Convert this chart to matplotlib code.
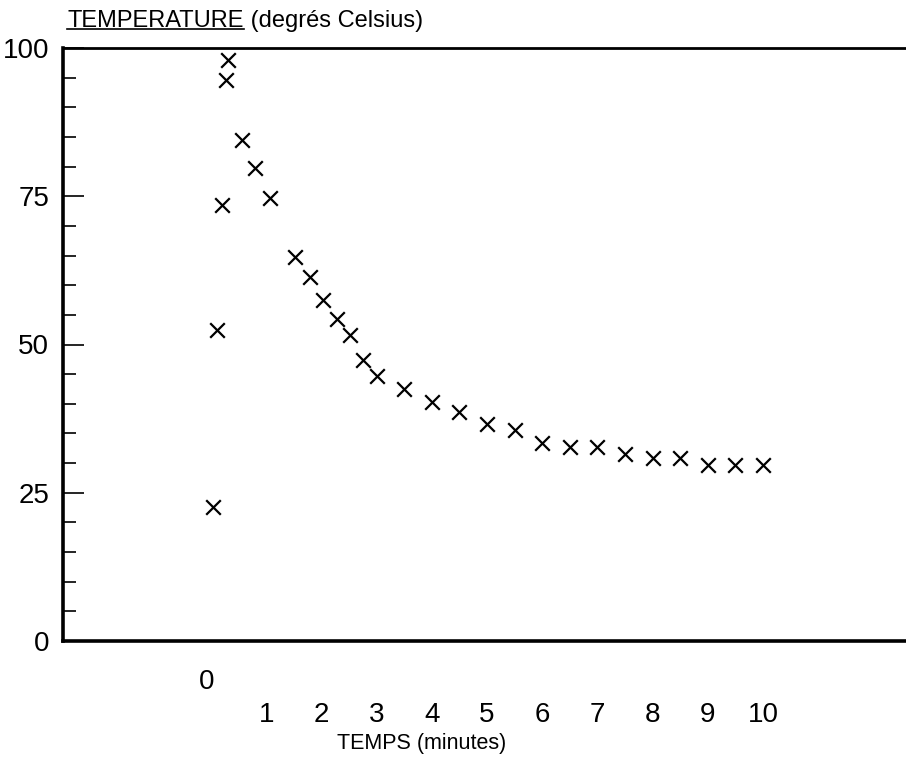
import matplotlib
matplotlib.use("Agg")
import matplotlib.pyplot as plt
from matplotlib.lines import Line2D

# Data
time_min = [0.04, 0.11, 0.20, 0.27, 0.31, 0.56, 0.80, 1.07, 1.52, 1.79, 2.03, 2.28,
            2.52, 2.75, 3.0, 3.5, 4.0, 4.5, 5.0, 5.5, 6.0, 6.5, 7.0, 7.5, 8.0, 8.5,
            9.0, 9.5, 10.0]
temperature = [22.6, 52.4, 73.5, 94.6, 98.0, 84.5, 79.8, 74.7, 64.8, 61.4, 57.5, 54.3,
               51.6, 47.4, 44.7, 42.5, 40.3, 38.6, 36.6, 35.6, 33.4, 32.7, 32.7, 31.5,
               30.9, 30.9, 29.7, 29.7, 29.7]
x_tick_values = [1, 2, 3, 4, 5, 6, 7, 8, 9, 10]
x_tick_labels = ["1", "2", "3", "4", "5", "6", "7", "8", "9", "10"]
y_major = [0, 25, 50, 75, 100]
y_minor = [5, 10, 15, 20, 30, 35, 40, 45, 55, 60, 65, 70, 80, 85, 90, 95]
title_word = "TEMPERATURE"
title_rest = " (degrés Celsius)"
xlabel = "TEMPS (minutes)"

FONT = ["Liberation Sans", "DejaVu Sans"]
plt.rcParams["font.family"] = FONT

W, H = 906, 764
fig = plt.figure(figsize=(W / 100, H / 100), dpi=100)
fig.patch.set_facecolor("white")

left_px, right_px, top_px, bottom_px = 63, 906, 48, 641
ax = fig.add_axes([left_px / W, 1 - bottom_px / H,
                   (right_px - left_px) / W, (bottom_px - top_px) / H])

# x: pixel = 211 + 55.2 * t
x0_px, xs = 211.0, 55.2
ax.set_xlim((left_px - x0_px) / xs, (right_px - x0_px) / xs)
ax.set_ylim(0, 100)

ax.scatter(time_min, temperature, marker="x", s=110, c="black", linewidths=1.6, zorder=3)

ax.spines["right"].set_visible(False)
ax.spines["left"].set_linewidth(2.6)
ax.spines["bottom"].set_linewidth(2.6)
ax.spines["top"].set_linewidth(2.0)

# y ticks
ax.set_yticks(y_major)
ax.set_yticklabels([str(v) for v in y_major])
ax.set_yticks(y_minor, minor=True)
ax.tick_params(axis="y", which="major", direction="in", length=15, width=1.2,
               labelsize=20, pad=10)
ax.tick_params(axis="y", which="minor", direction="in", length=9, width=1.2)

# x ticks (labels only)
ax.set_xticks(x_tick_values)
ax.set_xticklabels(x_tick_labels)
ax.tick_params(axis="x", which="both", length=0, labelsize=20, pad=44)
ax.text(-0.08, (bottom_px - 682) / (bottom_px - top_px) * 100, "0", ha="center",
        va="center", fontsize=20, clip_on=False)

# x label
fig.text(422 / W, 1 - 744 / H, xlabel, ha="center", va="center", fontsize=15.5)

# title with underlined first word
t1 = fig.text(67 / W, 1 - 21 / H, title_word, ha="left", va="center", fontsize=17)
fig.canvas.draw()
r = fig.canvas.get_renderer()
bb = t1.get_window_extent(r)
fig.text(bb.x1 / W, 1 - 21 / H, title_rest, ha="left", va="center", fontsize=17)
fig.add_artist(Line2D([bb.x0 / W, bb.x1 / W], [(bb.y0 + 3) / H, (bb.y0 + 3) / H],
                      color="black", linewidth=1.2, transform=fig.transFigure))

fig.savefig("out.png", dpi=100, facecolor="white")
